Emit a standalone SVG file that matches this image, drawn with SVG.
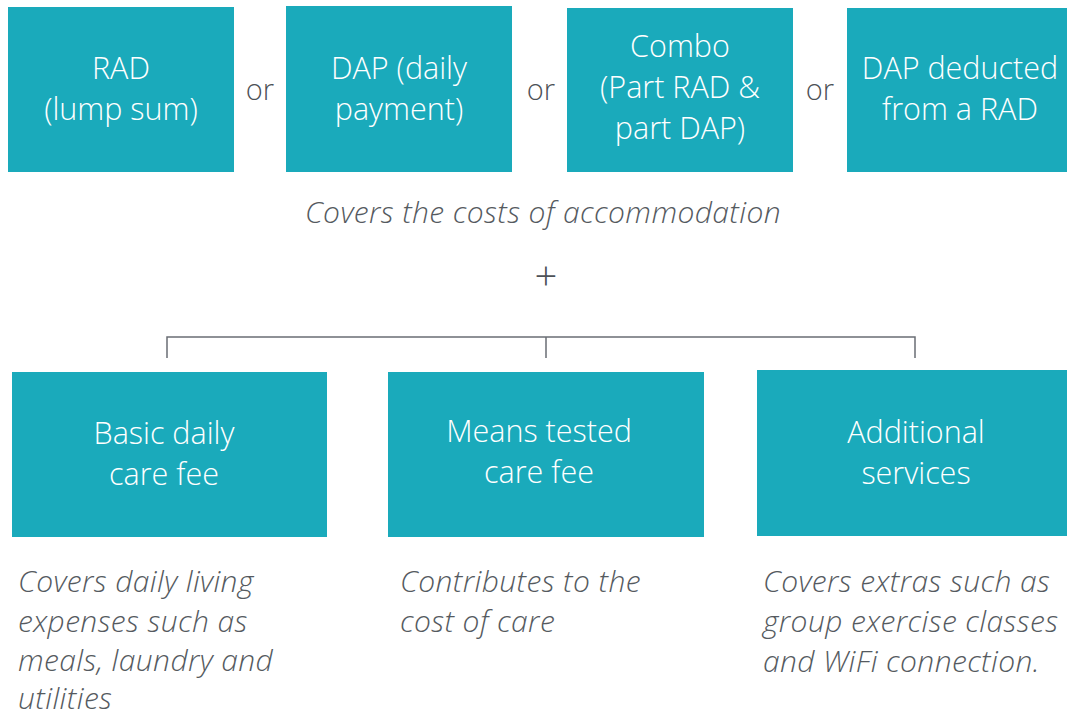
<svg xmlns="http://www.w3.org/2000/svg" width="1067" height="718" viewBox="0 0 1067 718">
<style>
.box{fill:#1aaabb}
.bt{font-family:"Open Sans","Liberation Sans",sans-serif;font-weight:300;font-size:30.5px;fill:#ffffff;text-anchor:middle}
.or{font-family:"Open Sans","Liberation Sans",sans-serif;font-weight:300;font-size:29px;fill:#4d5157;text-anchor:middle}
.it{font-family:"Open Sans","Liberation Sans",sans-serif;font-weight:300;font-style:italic;font-size:30px;letter-spacing:0.4px;fill:#555a60}
.conn{fill:none;stroke:#6a6e74;stroke-width:1.5}
</style>
<rect width="1067" height="718" fill="#ffffff"/>
<g id="rad"><rect class="box" x="8" y="7" width="226" height="165"/><text class="bt" x="121" y="79">RAD</text><text class="bt" x="121" y="120">(lump sum)</text></g>
<g id="dap"><rect class="box" x="286" y="6" width="226" height="166"/><text class="bt" x="399" y="79">DAP (daily</text><text class="bt" x="399" y="120">payment)</text></g>
<g id="combo"><rect class="box" x="567" y="8" width="226" height="164"/><text class="bt" x="680" y="57">Combo</text><text class="bt" x="680" y="98">(Part RAD &amp;</text><text class="bt" x="680" y="139">part DAP)</text></g>
<g id="dapded"><rect class="box" x="847" y="8" width="220" height="164"/><text class="bt" x="960" y="79">DAP deducted</text><text class="bt" x="960" y="120">from a RAD</text></g>
<g id="ors"><text class="or" x="260" y="100">or</text><text class="or" x="541" y="100">or</text><text class="or" x="820" y="100">or</text></g>
<g id="accom"><text class="it" x="543" y="223" text-anchor="middle">Covers the costs of accommodation</text></g>
<g id="plus"><text x="546" y="290" text-anchor="middle" style="font-family:'Open Sans','Liberation Sans',sans-serif;font-weight:300;font-size:40px;fill:#4d5157">+</text></g>
<g id="connectors">
<path class="conn" d="M167 358 V337 H915 V358 M546 337 V358"/>
</g>
<g id="basic"><rect class="box" x="12" y="372" width="315" height="165"/><text class="bt" x="164" y="444">Basic daily</text><text class="bt" x="164" y="485">care fee</text></g>
<g id="means"><rect class="box" x="388" y="372" width="316" height="165"/><text class="bt" x="539" y="442">Means tested</text><text class="bt" x="539" y="483">care fee</text></g>
<g id="additional"><rect class="box" x="757" y="370" width="310" height="166"/><text class="bt" x="916" y="443">Additional</text><text class="bt" x="916" y="484">services</text></g>
<g id="desc1"><text class="it" x="18" y="592">Covers daily living</text><text class="it" x="18" y="632">expenses such as</text><text class="it" x="18" y="671">meals, laundry and</text><text class="it" x="18" y="709">utilities</text></g>
<g id="desc2"><text class="it" x="400" y="592">Contributes to the</text><text class="it" x="400" y="632">cost of care</text></g>
<g id="desc3"><text class="it" x="763" y="592">Covers extras such as</text><text class="it" x="763" y="632">group exercise classes</text><text class="it" x="763" y="672">and WiFi connection.</text></g>
</svg>
